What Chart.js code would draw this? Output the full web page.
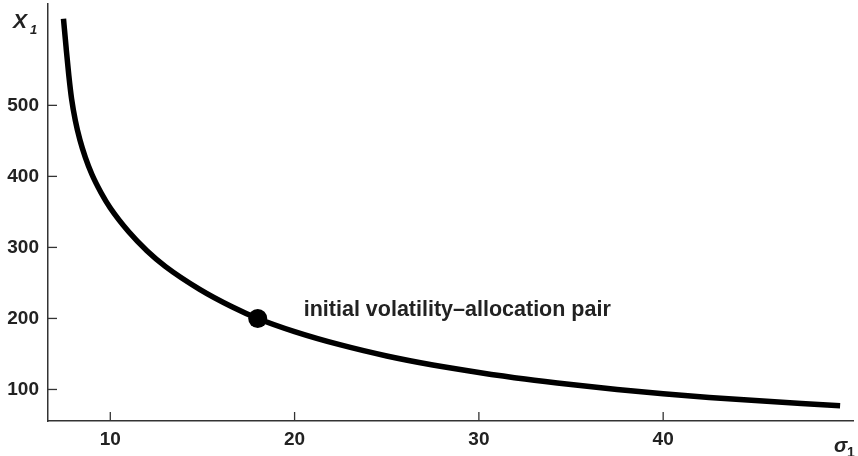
<!DOCTYPE html>
<html>
<head>
<meta charset="utf-8">
<script src="https://cdn.jsdelivr.net/npm/chart.js@4"></script>
<style>
  html, body { margin: 0; padding: 0; background: #fff; }
  #wrap { width: 858px; height: 456px; position: relative; }
</style>
</head>
<body>
<div id="wrap"><canvas id="c" width="858" height="456"></canvas></div>
<script>
// Values
const sigma = [7.46, 7.6, 7.75, 7.9, 8.1, 8.35, 8.65, 9.0, 9.5, 10, 11, 12, 13, 14.85, 16.6, 18, 20, 22.5, 25, 27.5, 30, 32.5, 35, 37.5, 40, 42.5, 45, 47.5, 49.6];
const allocation = [622, 582, 542, 509, 479, 451.5, 426.5, 403, 377, 355.5, 322, 295, 273, 241, 216.5, 200, 181.5, 162.7, 147.2, 134.5, 124, 114.7, 106.9, 100, 94, 88.8, 84.3, 80.3, 77.2];
const pairSigma = [18];
const pairAllocation = [200];
const xTicks = [10, 20, 30, 40];
const yTicks = [100, 200, 300, 400, 500];
const annotationText = "initial volatility\u2013allocation pair";

const axisColor = '#333';
const labelColor = '#222';
const fontFamily = '"Liberation Sans", Arial, Helvetica, sans-serif';

const curve = sigma.map((s, i) => ({ x: s, y: allocation[i] }));
const pair = pairSigma.map((s, i) => ({ x: s, y: pairAllocation[i] }));

const decor = {
  id: 'decor',
  afterDraw(chart) {
    const ctx = chart.ctx;
    const xs = chart.scales.x, ys = chart.scales.y;
    const area = chart.chartArea;
    ctx.save();
    ctx.strokeStyle = axisColor;
    ctx.lineWidth = 1.3;
    xTicks.forEach(v => {
      const px = xs.getPixelForValue(v);
      ctx.beginPath(); ctx.moveTo(px, area.bottom); ctx.lineTo(px, area.bottom - 9); ctx.stroke();
    });
    yTicks.forEach(v => {
      const py = ys.getPixelForValue(v);
      ctx.beginPath(); ctx.moveTo(area.left, py); ctx.lineTo(area.left + 9, py); ctx.stroke();
    });
    // axis titles
    ctx.fillStyle = labelColor;
    ctx.textBaseline = 'alphabetic';
    ctx.textAlign = 'left';
    ctx.font = 'italic bold 21px ' + fontFamily;
    ctx.fillText('X', 13, 28);
    ctx.font = 'italic bold 13px ' + fontFamily;
    ctx.fillText('1', 30, 34);
    ctx.font = 'italic bold 20px ' + fontFamily;
    ctx.fillText('\u03C3', 834, 452);
    ctx.font = 'bold 14px ' + fontFamily;
    ctx.fillText('1', 847, 457);
    // annotation
    const p = pair[0];
    const ax = xs.getPixelForValue(p.x), ay = ys.getPixelForValue(p.y);
    ctx.font = 'bold 21.5px ' + fontFamily;
    ctx.fillStyle = labelColor;
    ctx.fillText(annotationText, ax + 46, ay - 2);
    ctx.restore();
  }
};

new Chart(document.getElementById('c'), {
  type: 'scatter',
  data: {
    datasets: [
      {
        data: curve,
        showLine: true,
        borderColor: '#000',
        borderWidth: 5.5,
        pointRadius: 0,
        cubicInterpolationMode: 'monotone',
        fill: false,
        clip: false
      },
      {
        data: pair,
        showLine: false,
        pointRadius: 9.5,
        pointBackgroundColor: '#000',
        pointBorderColor: '#000',
        pointBorderWidth: 0,
        clip: false
      }
    ]
  },
  options: {
    responsive: false,
    animation: false,
    events: [],
    layout: { autoPadding: false, padding: { top: 4, right: 5, left: 0, bottom: 0 } },
    plugins: { legend: { display: false }, tooltip: { enabled: false } },
    scales: {
      x: {
        type: 'linear',
        min: 6.62,
        max: 50.3,
        afterFit(s) { s.height = 35; s.paddingLeft = 0; s.paddingRight = 0; },
        afterBuildTicks(s) { s.ticks = xTicks.map(v => ({ value: v })); },
        grid: { drawOnChartArea: false, drawTicks: false },
        border: { display: true, color: axisColor, width: 1.5 },
        ticks: { color: labelColor, padding: 7, font: { family: fontFamily, size: 19, weight: 'bold' }, maxRotation: 0 }
      },
      y: {
        type: 'linear',
        min: 55.6,
        max: 642.7,
        afterFit(s) { s.width = 48; s.paddingTop = 0; s.paddingBottom = 0; },
        afterBuildTicks(s) { s.ticks = yTicks.map(v => ({ value: v })); },
        grid: { drawOnChartArea: false, drawTicks: false },
        border: { display: true, color: axisColor, width: 1.5 },
        ticks: { color: labelColor, padding: 9, font: { family: fontFamily, size: 19, weight: 'bold', lineHeight: 0.4 } }
      }
    }
  },
  plugins: [decor]
});
</script>
</body>
</html>
